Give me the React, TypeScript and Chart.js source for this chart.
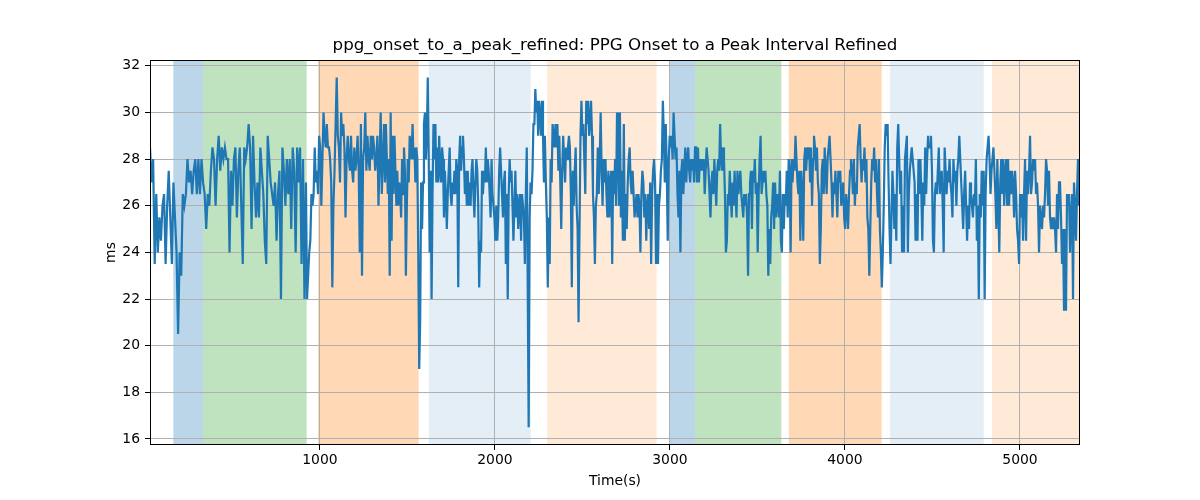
import { useEffect, useRef } from "react";
import { Chart, registerables } from "chart.js";

Chart.register(...registerables);

const TITLE = "ppg_onset_to_a_peak_refined: PPG Onset to a Peak Interval Refined";
const X_LABEL = "Time(s)";
const Y_LABEL = "ms";

// time edges (s) of the stretches the trace was read in, one values list per stretch
const segmentEdges = [29, 475, 920, 1366, 1812, 2258, 2703, 3149, 3595, 4040, 4486, 4932, 5343];

const seg01 = [28.5, 27, 28, 23.5, 26.5, 24, 25.5, 24.5, 26, 26.5, 23.5, 26, 27.5, 25.5, 23.5, 27, 25.5, 24, 20.5, 24, 23, 26.5, 26, 26.5, 28, 27, 27.5, 26.5, 27.5, 28, 26.5, 28, 26.5, 28, 27, 26.5, 25, 26.5, 26, 27.5, 28.5, 28, 26, 28, 29, 27.5, 28.5, 28, 28.5, 28];
const seg02 = [28, 24, 27.5, 26, 28, 28.5, 25.5, 27.5, 28.5, 26, 23.5, 28.5, 28, 28.5, 29.5, 28.5, 25, 29, 27, 25.5, 27, 25.5, 28.5, 27.5, 26.5, 24.5, 23.5, 29, 28, 27, 26.5, 26, 27, 24.5, 26.5, 27.5, 22, 28.5, 27.5, 26, 28, 26.5, 28, 25, 28.5, 27.5, 24, 28.5, 27, 28.5, 23.5, 28, 22];
const seg03 = [27, 22, 23, 24, 24.5, 26.5, 26, 26.5, 28.5, 27, 27.5, 26.5, 29, 28.5, 26, 28, 30, 29, 28.5, 29.5, 28.5, 28.5, 28, 27, 22.5, 26, 27.5, 29.5, 31.5, 29, 28.5, 27, 30, 29, 29.5, 28.5, 25.5, 28, 29, 28, 27.5, 29, 27.5, 27, 28.5, 27.5, 28, 29, 27.5, 24, 29.5, 23, 28, 28.5, 30, 27.5, 29, 28, 27.5, 29, 28, 29, 28.5, 27.5, 28, 29, 26, 28, 30, 26.5, 28];
const seg04 = [29.5, 27, 29.5, 28, 26.5, 28, 23, 30, 24.5, 29, 26.5, 29, 27.5, 26, 27.5, 26, 27, 26.5, 25.5, 28, 26.5, 28.5, 27.5, 23, 26, 28, 27, 29, 28.5, 28, 29.5, 28, 28.5, 27, 28.5, 28, 24, 19, 21, 27, 25, 27, 29.5, 30, 28, 29, 31.5, 28, 24, 27.5, 22, 26.5, 29.5, 28, 29.5, 27, 28.5, 27, 29, 27.5, 27, 28.5, 28, 25.5, 27.5, 26.5, 25, 26.5, 27.5, 28.5, 26.5, 26, 27, 26.5, 27.5, 26.5, 28, 27.5, 22.5, 28, 29, 27.5];
const seg05 = [28.5, 29, 28, 26.5, 27.5, 26, 27.5, 26, 27, 26, 27.5, 28, 26.5, 25.5, 27, 28, 27.5, 26, 22.5, 24.5, 24, 27.5, 26.5, 27.5, 27, 28.5, 27, 28, 27.5, 26.5, 25.5, 28, 26.5, 26, 25.5, 24.5, 26, 24.5, 25.5, 27.5, 28.5, 27.5, 26.5, 25.5, 27, 27.5, 23.5, 26.5, 22, 26.5, 28, 27, 27.5, 26, 24.5, 26, 27.5, 25.5, 26.5, 25, 26, 26.5, 24.5, 26.5, 26.5, 25.5, 23.5, 26.5, 28.5, 22.5, 16.5, 25.5, 27, 26.5, 27.5, 29.5, 29.5, 31, 30, 30.5, 29, 30.5];
const seg06 = [30, 29, 30.5, 29, 27, 29, 27, 25.5, 22.5, 25.5, 23.5, 28, 27, 29.5, 29, 28.5, 29.5, 28.5, 29.5, 27.5, 29, 27, 25, 27.5, 29, 28, 27, 28.5, 28, 28.5, 29, 28.5, 26.5, 22.5, 27.5, 26, 27.5, 28.5, 26, 25, 21, 25, 29, 30.5, 29, 29.5, 28, 26.5, 30.5, 29.5, 30.5, 29, 29.5, 30.5, 29, 26.5, 25.5, 23.5, 26, 26.5, 28.5, 26.5, 28, 30, 27.5, 26, 28, 27, 28, 26.5, 25.5, 27.5, 25.5, 27, 27.5, 23.5, 27.5, 26.5, 28, 26, 30];
const seg07 = [28.5, 26, 30, 25.5, 27.5, 24.5, 29.5, 24.5, 26.5, 25, 27, 28, 28.5, 27, 26.5, 27.5, 26.5, 25.5, 26, 26.5, 25.5, 26.5, 26, 24, 26.5, 27.5, 27, 25.5, 26.5, 24.5, 26, 26.5, 25, 27, 23.5, 26.5, 27.5, 28, 27, 23.5, 26.5, 23.5, 26, 26.5, 27.5, 28, 30.5, 29, 27, 29.5, 27.5, 24.5, 28, 29, 28.5, 29, 28, 30, 29, 28, 28.5, 26.5, 25.5, 27.5, 24, 27.5, 28, 26.5, 27.5, 28.5, 27, 28, 28.5, 27.5, 27, 28, 27.5, 28, 27, 28.5];
const seg08 = [28.5, 27, 28.5, 27, 28, 27.5, 28, 27.5, 28, 26.5, 27.5, 28.5, 28, 27.5, 26.5, 25.5, 27, 27.5, 26.5, 28, 27, 26, 27.5, 28, 27.5, 29.5, 28, 27.5, 28.5, 28, 26.5, 24, 24.5, 26.5, 26, 27.5, 26.5, 25.5, 27, 26, 27.5, 26.5, 25.5, 27.5, 26.5, 27, 27.5, 26.5, 26, 25.5, 26.5, 26, 26.5, 25.5, 23, 26.5, 27, 27.5, 25, 27.5, 27, 28, 26.5, 27, 24, 26.5, 28, 29, 26.5, 27, 27.5, 27, 27.5, 26.5, 26, 23, 25, 23.5, 25.5, 26, 27];
const seg09 = [25, 27, 25.5, 26.5, 26, 25.5, 27.5, 24.5, 24, 26.5, 25, 26.5, 26, 27.5, 25.5, 28, 27.5, 24, 28, 27, 28, 27.5, 29, 28, 27, 26.5, 27.5, 24.5, 27.5, 26.5, 24.5, 28, 28.5, 27.5, 28.5, 28, 28.5, 27, 28.5, 26, 28, 29, 28.5, 27.5, 28.5, 27, 26.5, 23.5, 25, 27.5, 28, 26.5, 28.5, 27.5, 26.5, 28, 28.5, 29, 28, 27, 25.5, 27, 26.5, 27.5, 26.5, 25.5, 27.5, 27, 27.5, 26, 26.5, 27, 25.5, 25, 26.5, 26, 25, 26.5, 27.5, 28];
const seg10 = [27.5, 26.5, 28, 26, 27, 26.5, 28.5, 29, 29.5, 28, 27, 28, 27.5, 28.5, 27, 28, 25.5, 25, 23, 25, 27, 28, 27.5, 28.5, 27, 28, 26.5, 25.5, 28, 25, 24, 22.5, 24, 26, 28.5, 29.5, 29, 29.5, 27, 25, 23.5, 25.5, 27.5, 26.5, 25, 26.5, 24.5, 28.5, 29.5, 28, 26.5, 27.5, 24, 26, 24, 28, 28.5, 29, 24, 26.5, 27.5, 28, 28.5, 28, 27.5, 27, 24.5, 26.5, 24.5, 28, 26.5, 28, 26.5, 24.5, 27, 26, 28.5, 26.5, 28, 29, 28.5];
const seg11 = [28.5, 29, 27.5, 24.5, 24, 26.5, 27, 26.5, 27.5, 28.5, 26.5, 27, 27.5, 26, 24, 28.5, 27.5, 26.5, 27.5, 27, 28, 27, 26.5, 25.5, 28, 27, 27.5, 26, 27.5, 28, 29, 28, 27, 26, 25, 26.5, 27.5, 26, 24.5, 26, 25, 27, 26.5, 26, 25.5, 26.5, 26, 28, 24.5, 26, 22, 26.5, 25.5, 27.5, 26, 27.5, 22, 26.5, 28, 28.5, 29, 28, 26.5, 27.5, 28, 28.5, 27.5, 26.5, 25, 28, 26, 24, 27, 28, 26.5, 28, 26, 27.5, 28, 26];
const seg12 = [28, 26, 27.5, 26.5, 27.5, 27, 25.5, 27.5, 26.5, 25, 24.5, 23.5, 26.5, 25.5, 26.5, 24.5, 26.5, 28, 24.5, 27.5, 26.5, 27.5, 29, 26.5, 27, 28, 27.5, 28, 26.5, 27, 26, 24, 26, 25.5, 25, 26, 25.5, 26.5, 28, 27.5, 26, 27.5, 25.5, 25, 25.5, 25, 25.5, 25, 24, 26.5, 25, 27, 27, 25.5, 23.5, 25, 21.5, 25, 21.5, 26.5, 26, 26.5, 24, 25.5, 26.5, 22, 27, 26, 24.5, 26.5, 28, 26, 28];

const segments = [seg01, seg02, seg03, seg04, seg05, seg06, seg07, seg08, seg09, seg10, seg11, seg12];

const xTicks = [1000, 2000, 3000, 4000, 5000];
const yTicks = [16, 18, 20, 22, 24, 26, 28, 30, 32];

// shaded intervals
const bandStarts = [162, 332, 989, 1622, 2298, 2996, 3143, 3679, 4258, 4840];
const bandEnds = [332, 924, 1564, 2204, 2924, 3143, 3636, 4210, 4793, 5343];
const bandColors = [
  "rgba(31, 119, 180, 0.3)",
  "rgba(44, 160, 44, 0.3)",
  "rgba(255, 127, 14, 0.3)",
  "rgba(31, 119, 180, 0.12)",
  "rgba(255, 127, 14, 0.16)",
  "rgba(31, 119, 180, 0.3)",
  "rgba(44, 160, 44, 0.3)",
  "rgba(255, 127, 14, 0.3)",
  "rgba(31, 119, 180, 0.12)",
  "rgba(255, 127, 14, 0.16)",
];

const FONT = "'DejaVu Sans', sans-serif";

const decorPlugin = {
  id: "decor",
  beforeDraw(chart: any) {
    const { ctx, chartArea, scales } = chart;
    ctx.save();
    bandStarts.forEach((s, i) => {
      const x0 = scales.x.getPixelForValue(s);
      const x1 = scales.x.getPixelForValue(bandEnds[i]);
      ctx.fillStyle = bandColors[i];
      ctx.fillRect(x0, chartArea.top, x1 - x0, chartArea.bottom - chartArea.top);
    });
    ctx.restore();
  },
  afterDraw(chart: any) {
    const { ctx, chartArea } = chart;
    const { left, right, top, bottom } = chartArea;
    ctx.save();
    // frame on all four sides
    ctx.strokeStyle = "#000";
    ctx.lineWidth = 1;
    ctx.strokeRect(left + 0.5, top + 0.5, right - left - 1, bottom - top - 1);
    ctx.fillStyle = "#000";
    ctx.textAlign = "center";
    ctx.textBaseline = "middle";
    ctx.font = `16.7px ${FONT}`;
    ctx.fillText(TITLE, (left + right) / 2, 46);
    ctx.font = `13.9px ${FONT}`;
    ctx.fillText(X_LABEL, (left + right) / 2, 481);
    ctx.translate(111, (top + bottom) / 2);
    ctx.rotate(-Math.PI / 2);
    ctx.fillText(Y_LABEL, 0, 0);
    ctx.restore();
  },
};

const App = () => {
  const chartRef = useRef<HTMLCanvasElement>(null);

  useEffect(() => {
    document.body.style.margin = "0";
    if (!chartRef.current) return;
    const ctx = chartRef.current.getContext("2d");
    if (!ctx) return;

    const points: { x: number; y: number }[] = [];
    segments.forEach((vals, k) => {
      const t0 = segmentEdges[k];
      const t1 = segmentEdges[k + 1];
      const last = k === segments.length - 1;
      const step = (t1 - t0) / (last ? vals.length - 1 : vals.length);
      vals.forEach((v, i) => points.push({ x: t0 + i * step, y: v }));
    });

    const chart = new Chart(ctx, {
      type: "line",
      data: {
        datasets: [
          {
            data: points,
            borderColor: "#1f77b4",
            borderWidth: 2.2,
            pointRadius: 0,
            tension: 0,
            fill: false,
          },
        ],
      },
      options: {
        responsive: true,
        maintainAspectRatio: false,
        animation: false,
        layout: { padding: { top: 60, right: 120, bottom: 0, left: 0 } },
        plugins: {
          legend: { display: false },
          tooltip: { enabled: false },
          title: { display: false },
        },
        scales: {
          x: {
            type: "linear",
            min: 29,
            max: 5343,
            afterBuildTicks: (scale: any) => {
              scale.ticks = xTicks.map((v) => ({ value: v }));
            },
            afterFit: (scale: any) => {
              scale.height = 55;
            },
            ticks: {
              color: "#000",
              font: { family: FONT, size: 13.9 },
              padding: 2,
              maxRotation: 0,
              callback: (v: any) => String(v),
            },
            grid: { color: "#b0b0b0", lineWidth: 1, tickLength: 5, tickColor: "#000" },
            border: { display: false },
          },
          y: {
            type: "linear",
            min: 15.74,
            max: 32.25,
            afterBuildTicks: (scale: any) => {
              scale.ticks = yTicks.map((v) => ({ value: v }));
            },
            afterFit: (scale: any) => {
              scale.width = 150;
            },
            ticks: {
              color: "#000",
              font: { family: FONT, size: 13.9 },
              padding: 5,
              callback: (v: any) => String(v),
            },
            grid: { color: "#b0b0b0", lineWidth: 1, tickLength: 5, tickColor: "#000" },
            border: { display: false },
          },
        },
      },
      plugins: [decorPlugin],
    });
    return () => chart.destroy();
  }, []);

  return (
    <div style={{ position: "relative", width: 1200, height: 500, background: "#fff" }}>
      <canvas ref={chartRef}></canvas>
    </div>
  );
};

export default App;
